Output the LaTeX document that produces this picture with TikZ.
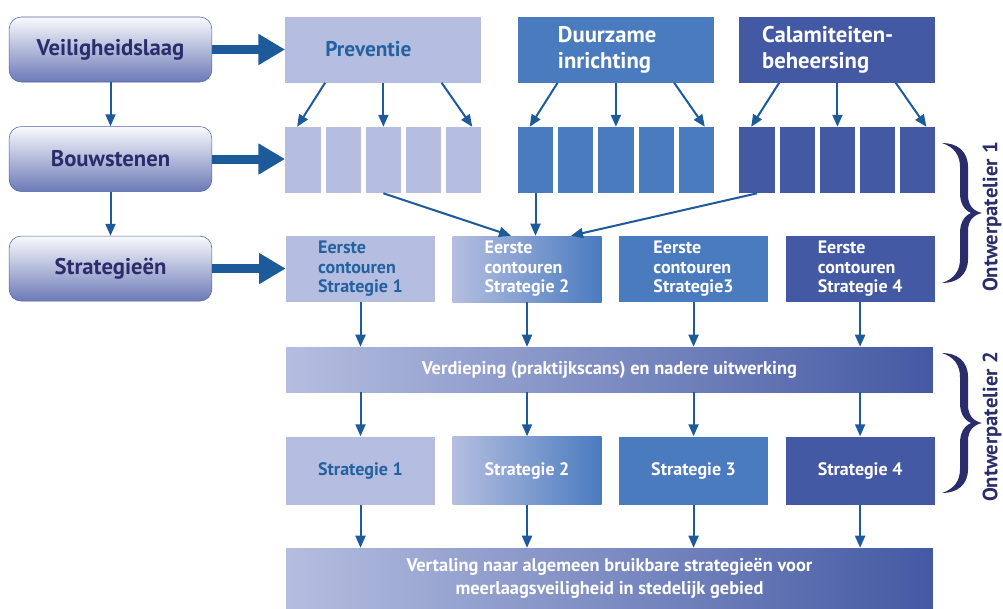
\documentclass[tikz,border=0pt]{standalone}
\usepackage{fontspec}
\setmainfont{PT Sans}
\usetikzlibrary{arrows.meta,positioning}

\definecolor{lavend}{HTML}{B5BEE0}
\definecolor{midblue}{HTML}{4A7BBF}
\definecolor{deepblue}{HTML}{4459A3}
\definecolor{linkblue}{HTML}{1D5A9A}
\definecolor{navy}{HTML}{2B2C6C}
\definecolor{textblue}{HTML}{2361A0}
\definecolor{layerline}{HTML}{5363A9}

\begin{document}
\begin{tikzpicture}[
    x=0.75pt, y=-0.75pt,
    node distance=33pt and 12.75pt,
    layer/.style={draw=layerline, rounded corners=9pt,
      top color=white!92!lavend, bottom color=layerline!75!lavend,
      minimum width=152pt, minimum height=48.75pt,
      font=\bfseries\fontsize{17}{19}\selectfont, text=navy},
    theme/.style={minimum width=147pt, minimum height=49.5pt, align=left,
      inner xsep=30pt, text width=87pt,
      font=\bfseries\fontsize{17}{19.5}\selectfont, text=white},
    brick/.style={minimum width=26.4pt, minimum height=49.5pt,
      anchor=north west, inner sep=0pt},
    draft/.style={minimum width=111.75pt, minimum height=49.5pt, align=left,
      font=\bfseries\fontsize{13.5}{14.6}\selectfont, text=white},
    final/.style={minimum width=111.75pt, minimum height=51pt,
      font=\bfseries\fontsize{13.5}{15}\selectfont, text=white},
    band/.style={minimum width=485pt, align=center,
      left color=lavend, middle color=midblue, right color=deepblue,
      font=\bfseries\fontsize{13.8}{17}\selectfont, text=white},
    arrow/.style={-{Triangle[length=9pt,width=7.5pt]}, line width=1.5pt, draw=linkblue},
    fat/.style={-{Triangle[length=20pt,width=22pt]}, line width=6.75pt, draw=linkblue},
    atelier/.style={rotate=90, inner sep=0pt, text=navy,
      font=\bfseries\fontsize{15.5}{18}\selectfont}
  ]
    \useasboundingbox (0,0) rectangle (1003,608);

    % left column
    \node[layer] (lv) at (110.5,49.5) {Veiligheidslaag};
    \node[layer, below=of lv] (bs) {Bouwstenen};
    \node[layer, below=of bs] (st) {Strategieën};
    \draw[arrow] (lv) -- (bs);
    \draw[arrow] (bs) -- (st);

    % the three safety layers
    \node[theme, fill=lavend, text=textblue, right=54.75pt of lv,
      font=\bfseries\fontsize{16}{19.5}\selectfont] (prev) {Preventie};
    \node[theme, fill=midblue, right=27pt of prev] (duur) {Duurzame\\inrichting};
    \node[theme, fill=deepblue, right=18.75pt of duur,
      inner xsep=17pt, text width=113pt] (cala) {Calamiteiten-\\beheersing};

    % building blocks under each layer
    \foreach \g/\c in {prev/lavend, duur/midblue, cala/deepblue}
      \foreach \i in {1,...,5}
        \node[brick, fill=\c] (\g\i) at ([xshift={(\i-1)*30.15pt}, yshift=-33pt]\g.south west) {};
    \foreach \g in {prev, duur, cala} {
      \draw[arrow] ([xshift=30pt]\g.south west) -- ([xshift=9pt]\g1.north west);
      \draw[arrow] (\g3.north |- \g.south) -- (\g3.north);
      \draw[arrow] ([xshift=-30pt]\g.south east) -- ([xshift=-7pt]\g5.north east);
    }

    % first outlines
    \node[draft, fill=lavend, text=textblue] (c1) at (360.5,269) {Eerste\\contouren\\Strategie 1};
    \node[draft, left color=lavend, right color=midblue, right=of c1] (c2) {Eerste\\contouren\\Strategie 2};
    \node[draft, fill=midblue, right=of c2] (c3) {Eerste\\contouren\\Strategie3};
    \node[draft, fill=deepblue, right=of c3] (c4) {Eerste\\contouren\\Strategie 4};
    \draw[arrow] (prev3.south) -- ([xshift=-12pt]c2.north);
    \draw[arrow] (duur1.south) -- (duur1.south |- c2.north);
    \draw[arrow] (cala1.south) -- ([xshift=33pt]c2.north);

    \draw[fat] (lv.east) -- (lv.east -| prev.west);
    \draw[fat] (bs.east) -- (bs.east -| prev1.west);
    \draw[fat] (st.east) -- (st.east -| c1.west);

    % elaboration and final strategies
    \node[band, minimum height=33.75pt] (vd) at (609.5,369.5)
      {Verdieping (praktijkscans) en nadere uitwerking};
    \node[final, fill=lavend, text=textblue, below=100.5pt of c1] (s1) {Strategie 1};
    \node[final, left color=lavend, right color=midblue, below=100.5pt of c2] (s2) {Strategie 2};
    \node[final, fill=midblue, below=100.5pt of c3] (s3) {Strategie 3};
    \node[final, fill=deepblue, below=100.5pt of c4] (s4) {Strategie 4};
    \node[band, minimum height=45pt] (vt) at (609.5,578)
      {Vertaling naar algemeen bruikbare strategieën voor\\meerlaagsveiligheid in stedelijk gebied};

    \foreach \i in {1,...,4} {
      \draw[arrow] (c\i.south) -- (c\i.south |- vd.north);
      \draw[arrow] (c\i.south |- vd.south) -- (s\i.north);
      \draw[arrow] (s\i.south) -- (s\i.south |- vt.north);
    }

    % braces for the two workshops
    \foreach \top in {143,353}
      \fill[navy, shift={(942,\top)}] (0,0) .. controls (15,0) and (26,8) .. (26,24)
        -- (26,52) .. controls (26,62) and (31,68) .. (40,70)
        .. controls (31,72) and (26,78) .. (26,88)
        -- (26,116) .. controls (26,132) and (15,140) .. (0,140)
        .. controls (12,136) and (18,128) .. (18,116)
        -- (18,90) .. controls (18,80) and (22,73) .. (29,70)
        .. controls (22,67) and (18,60) .. (18,50)
        -- (18,24) .. controls (18,12) and (12,4) .. (0,0) -- cycle;
    \node[atelier] (at1) at (992,217) {Ontwerpatelier 1};
    \node[atelier] (at2) at (992,427) {Ontwerpatelier 2};
  \end{tikzpicture}
\end{document}
